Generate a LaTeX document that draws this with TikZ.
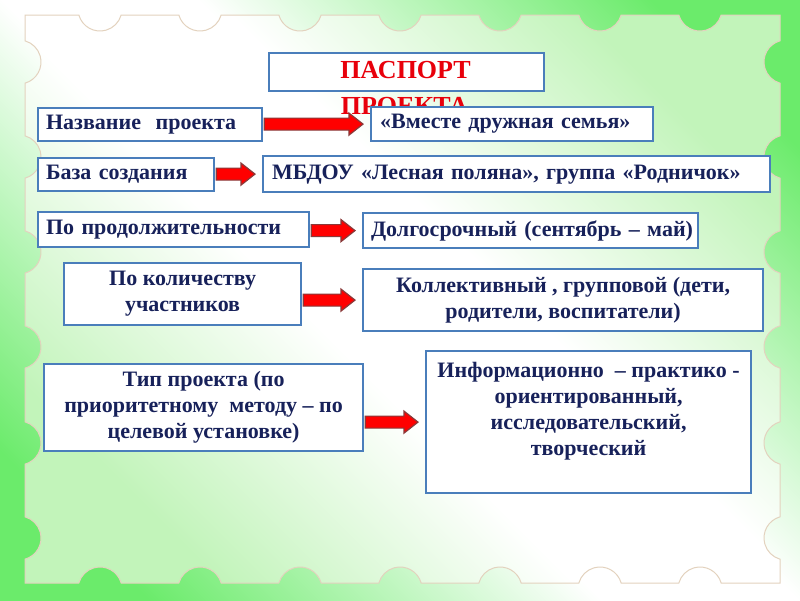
\documentclass[tikz,border=0pt]{standalone}
\usepackage{fontspec}
\setmainfont{Liberation Serif}
\usetikzlibrary{calc}
\definecolor{bggreen}{HTML}{6BEB6B}
\definecolor{stampgreen}{HTML}{C2F4BA}
\definecolor{stampedge}{HTML}{E3D2BE}
\definecolor{boxblue}{HTML}{4A7EBB}
\definecolor{navy}{HTML}{17215A}
\definecolor{titlered}{HTML}{E8000B}
\definecolor{arrowred}{HTML}{FF0000}
\definecolor{arrowedge}{HTML}{8A3A3A}
\pgfdeclarehorizontalshading{bgband}{100bp}{color(0bp)=(bggreen); color(22bp)=(bggreen); color(45bp)=(white); color(55bp)=(white); color(78bp)=(bggreen); color(100bp)=(bggreen)}
\pgfdeclarehorizontalshading{stampband}{100bp}{color(0bp)=(stampgreen); color(25bp)=(stampgreen); color(44bp)=(white); color(56bp)=(white); color(75bp)=(stampgreen); color(100bp)=(stampgreen)}
\tikzset{
  box/.style={draw=boxblue, line width=2.2pt, fill=white, text=navy,
    font=\bfseries\fontsize{22}{26}\selectfont, anchor=north west},
  lbox/.style={box, align=left, inner xsep=8pt, inner ysep=0pt},
  cbox/.style={box, align=center, inner sep=0pt},
  titletext/.style={text=titlered, font=\bfseries\fontsize{26}{30}\selectfont, inner sep=0pt},
  blockarrow/.style={draw=arrowedge, line width=1.2pt, fill=arrowred, line join=miter,
    to path={let \p1=(\tikztostart), \p2=(\tikztotarget) in
      (\x1+1pt,\y2+6pt) -- (\x2-21pt,\y2+6pt) -- (\x2-21pt,\y2+11pt) -- (\x2-7pt,\y2)
      -- (\x2-21pt,\y2-11pt) -- (\x2-21pt,\y2-6pt) -- (\x1+1pt,\y2-6pt) -- cycle}}
}
\begin{document}
\begin{tikzpicture}[x=1pt,y=-1pt]
\useasboundingbox (0,0) rectangle (800,600);
% background
\shade[shading=bgband, shading angle=45] (0,0) rectangle (800,600);
% stamp
\shadedraw[shading=stampband, shading angle=45, draw=stampedge, line width=1pt]
  (25,15)
  \foreach \xx in {100,200,...,700}{ -- (\xx-21.17,15) arc[start angle=164.2,end angle=15.8,radius=22] }
  -- (780,15)
  \foreach \yy in {62,157,252,347,443,538}{ -- (780,\yy-21.17) arc[start angle=254.2,end angle=105.8,radius=22] }
  -- (780,583)
  \foreach \xx in {700,600,...,100}{ -- (\xx+21.17,583) arc[start angle=-15.8,end angle=-164.2,radius=22] }
  -- (25,583)
  \foreach \yy in {538,443,347,252,157,62}{ -- (25,\yy+21.17) arc[start angle=74.2,end angle=-74.2,radius=22] }
  -- cycle;
% title
\node[box, minimum width=275pt, minimum height=38pt, inner sep=0pt] (title) at (268,52) {};
\node[titletext] (t1) at (405.5,70) {ПАСПОРТ};
\node[titletext] (t2) at (404.5,106.5) {ПРОЕКТА};
% boxes
\node[lbox, minimum width=224pt, text width=208pt, minimum height=33pt] (name) at (37,107) {\mbox{Название~~проекта}};
\node[lbox, minimum width=282pt, text width=264pt, inner xsep=9pt, minimum height=34pt] (together) at (370,106) {\mbox{«Вместе дружная семья»}};
\node[lbox, minimum width=176pt, text width=160pt, minimum height=33pt] (base) at (37,157) {\mbox{База создания}};
\node[lbox, minimum width=507pt, text width=489pt, inner xsep=9pt, minimum height=36pt] (mbdou) at (262,155) {\mbox{МБДОУ «Лесная поляна», группа «Родничок»}};
\node[lbox, minimum width=271pt, text width=255pt, minimum height=35pt] (dur) at (37,211) {\mbox{По продолжительности}};
\node[lbox, minimum width=335pt, text width=319pt, minimum height=35pt] (long) at (362,212) {\mbox{Долгосрочный (сентябрь – май)}};
\node[cbox, minimum width=237pt, minimum height=62pt] (count) at (63,262) {По количеству\\участников};
\node[cbox, minimum width=400pt, minimum height=62pt] (coll) at (362,268) {Коллективный , групповой (дети,\\родители, воспитатели)};
\node[cbox, minimum width=319pt, minimum height=87pt] (type) at (43,363) {Тип проекта (по\\приоритетному~~методу – по\\целевой установке)};
\node[cbox, minimum width=325pt, minimum height=142pt] (info) at (425,350) {Информационно~~– практико -\\ориентированный,\\исследовательский,\\творческий\\\mbox{}};
% arrows
\path[blockarrow] (name.east) to (together.west);
\path[blockarrow] (base.east) to (mbdou.west);
\path[blockarrow] (dur.east) to (long.west);
\path[blockarrow] (count.east) to (coll.west);
\path[blockarrow] (type.east) to (info.west);
\end{tikzpicture}
\end{document}
